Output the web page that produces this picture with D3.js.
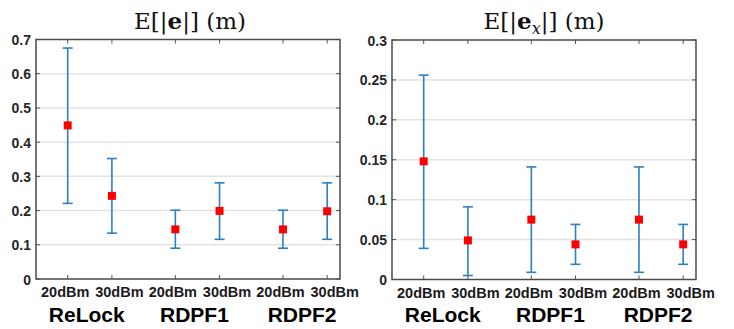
<!DOCTYPE html>
<html>
<head>
<meta charset="utf-8">
<script src="https://cdn.jsdelivr.net/npm/d3@7"></script>
<style>
  html, body { margin: 0; padding: 0; background: #fff; }
  svg { display: block; }
</style>
</head>
<body>
<div id="chart"></div>
<script>
// 数据
const groups = ['ReLock', 'RDPF1', 'RDPF2'];
const powers = ['20dBm', '30dBm'];

// 左图 E[|e|]
const eMean  = [0.449, 0.243, 0.145, 0.199, 0.145, 0.198];
const eLow   = [0.221, 0.134, 0.090, 0.116, 0.090, 0.116];
const eHigh  = [0.675, 0.352, 0.201, 0.281, 0.201, 0.281];
const eTicks = [0, 0.1, 0.2, 0.3, 0.4, 0.5, 0.6, 0.7];

// 右图 E[|e_x|]
const exMean  = [0.148, 0.049, 0.075, 0.044, 0.075, 0.044];
const exLow   = [0.039, 0.005, 0.009, 0.019, 0.009, 0.019];
const exHigh  = [0.256, 0.091, 0.141, 0.069, 0.141, 0.069];
const exTicks = [0, 0.05, 0.1, 0.15, 0.2, 0.25, 0.3];

const W = 734, H = 329;
const SANS = '"Liberation Sans", Arial, sans-serif';
const svg = d3.select('#chart').append('svg').attr('width', W).attr('height', H);

// 组内间距 1，组间多 0.435
const groupGap = 1.435;
function xPos(i) {
  const g = Math.floor(i / powers.length), k = i % powers.length;
  return 1 + g * (1 + groupGap) + k;
}

function panel(opts) {
  const { left, right, top, bottom, yMax, ticks, mean, low, high, fmt } = opts;
  const x = d3.scaleLinear().domain([0.283, 7.16]).range([left, right]);
  const y = d3.scaleLinear().domain([0, yMax]).range([bottom, top]);
  const g = svg.append('g');
  const idx = d3.range(mean.length);

  // 网格
  g.selectAll('line.grid').data(ticks.filter(t => t > 0 && t < yMax)).join('line')
    .attr('x1', left).attr('x2', right)
    .attr('y1', d => y(d)).attr('y2', d => y(d))
    .attr('stroke', '#e3e3e3').attr('stroke-width', 1.5);

  // 坐标轴（左、底）
  const yAxis = d3.axisLeft(y).tickValues(ticks).tickSize(0).tickPadding(5).tickFormat(fmt);
  const ya = g.append('g').attr('transform', `translate(${left},0)`).call(yAxis);
  ya.select('.domain').remove();
  ya.selectAll('text')
    .style('font-family', SANS).style('font-weight', 'bold').style('font-size', '14px')
    .attr('fill', '#262626').attr('dy', '0.36em');

  const xAxis = d3.axisBottom(x).tickValues(idx.map(xPos)).tickSize(0).tickPadding(8)
    .tickFormat((d, i) => powers[i % powers.length]);
  const xa = g.append('g').attr('transform', `translate(0,${bottom})`).call(xAxis);
  xa.select('.domain').remove();
  // 20dBm 略左，30dBm 略右
  xa.selectAll('text')
    .style('font-family', SANS).style('font-weight', 'bold').style('font-size', '14.5px')
    .attr('fill', '#1a1a1a').attr('dy', '0.71em')
    .attr('x', (d, i) => i % 2 === 0 ? -3 : 7);

  // 刻度线（四边朝内）
  const tl = 4;
  idx.forEach(i => {
    const xx = x(xPos(i));
    g.append('line').attr('x1', xx).attr('x2', xx).attr('y1', bottom).attr('y2', bottom - tl)
      .attr('stroke', '#555').attr('stroke-width', 1);
    g.append('line').attr('x1', xx).attr('x2', xx).attr('y1', top).attr('y2', top + tl)
      .attr('stroke', '#555').attr('stroke-width', 1);
  });
  ticks.forEach(t => {
    g.append('line').attr('x1', left).attr('x2', left + tl).attr('y1', y(t)).attr('y2', y(t))
      .attr('stroke', '#555').attr('stroke-width', 1);
    g.append('line').attr('x1', right).attr('x2', right - tl).attr('y1', y(t)).attr('y2', y(t))
      .attr('stroke', '#555').attr('stroke-width', 1);
  });

  // 边框
  g.append('rect').attr('x', left).attr('y', top)
    .attr('width', right - left).attr('height', bottom - top)
    .attr('fill', 'none').attr('stroke', '#4a4a4a').attr('stroke-width', 1.5);

  // 误差棒
  const blue = '#2a80c4';
  const cap = 5;
  const eb = g.selectAll('g.eb').data(idx).join('g');
  eb.append('line')
    .attr('x1', i => x(xPos(i))).attr('x2', i => x(xPos(i)))
    .attr('y1', i => y(low[i])).attr('y2', i => y(high[i]))
    .attr('stroke', blue).attr('stroke-width', 1.6);
  eb.append('line')
    .attr('x1', i => x(xPos(i)) - cap).attr('x2', i => x(xPos(i)) + cap)
    .attr('y1', i => y(low[i])).attr('y2', i => y(low[i]))
    .attr('stroke', blue).attr('stroke-width', 1.6);
  eb.append('line')
    .attr('x1', i => x(xPos(i)) - cap).attr('x2', i => x(xPos(i)) + cap)
    .attr('y1', i => y(high[i])).attr('y2', i => y(high[i]))
    .attr('stroke', blue).attr('stroke-width', 1.6);

  // 均值方块
  const s = 8;
  g.selectAll('rect.m').data(idx).join('rect')
    .attr('x', i => x(xPos(i)) - s / 2).attr('y', i => y(mean[i]) - s / 2)
    .attr('width', s).attr('height', s).attr('fill', '#ff0000');

  // 组名
  g.selectAll('text.grp').data(groups).join('text')
    .style('font-family', SANS).style('font-weight', 'bold').style('font-size', '21px')
    .attr('fill', '#000').attr('text-anchor', 'middle')
    .attr('x', (d, gi) => (x(xPos(gi * 2)) + x(xPos(gi * 2 + 1))) / 2 - 3)
    .attr('y', 321.5)
    .text(d => d);

  return { x, y, g };
}

const fmt1 = d => d === 0 ? '0' : d3.format('.1f')(d);
const fmt2 = d => d === 0 ? '0' : String(+d.toFixed(2));

panel({ left: 36, right: 340, top: 39.5, bottom: 279, yMax: 0.7, ticks: eTicks,
  mean: eMean, low: eLow, high: eHigh, fmt: fmt1 });
panel({ left: 392, right: 696, top: 40, bottom: 279.5, yMax: 0.3, ticks: exTicks,
  mean: exMean, low: exLow, high: exHigh, fmt: fmt2 });

// 标题
const SERIF = '"DejaVu Serif", "Liberation Serif", serif';
function title(cx, sub) {
  const t = svg.append('text').attr('text-anchor', 'middle')
    .attr('x', cx).attr('y', 29)
    .style('font-family', SERIF).style('font-size', '23px').attr('fill', '#111');
  t.append('tspan').text('E[|');
  t.append('tspan').style('font-weight', 'bold').text('e');
  if (sub) {
    t.append('tspan').style('font-style', 'italic').style('font-size', '16px').attr('dy', 5).text(sub);
    t.append('tspan').attr('dy', -5).text('|] (m)');
  } else {
    t.append('tspan').text('|] (m)');
  }
}
title(190, null);
title(544, 'x');
</script>
</body>
</html>
